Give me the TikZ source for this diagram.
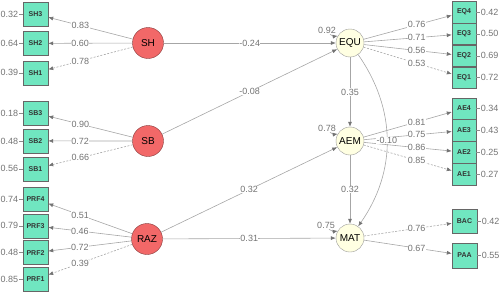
\documentclass[tikz,border=0pt]{standalone}
\usepackage{fontspec}
\setmainfont{Liberation Sans}
\usepackage{xcolor}
\usetikzlibrary{positioning,arrows.meta}

\definecolor{mint}{RGB}{112,230,192}
\definecolor{exored}{RGB}{242,104,104}
\definecolor{cream}{RGB}{255,255,226}

\begin{document}
\begin{tikzpicture}[
  x=1pt,y=-1pt,
  ind/.style={draw=black!60,fill=mint,minimum width=25pt,minimum height=24pt,
              inner sep=0pt,font=\fontsize{7}{8}\selectfont\bfseries,text=black!80},
  indr/.style={ind,minimum width=24pt,minimum height=21.5pt},
  exo/.style={circle,draw=exored!55!black,fill=exored,minimum size=31pt,
              inner sep=0pt,font=\fontsize{10}{12}\selectfont},
  endo/.style={circle,draw=black!40,fill=cream,minimum size=28pt,
               inner sep=0pt,font=\fontsize{10}{12}\selectfont},
  arr/.style={draw=black!35,line width=0.6pt,
              -{Latex[length=5pt,width=4pt,color=black!55]}},
  fix/.style={arr,dash pattern=on 2pt off 1.5pt},
  lab/.style={font=\fontsize{9}{10}\selectfont,text=black!55,fill=white,inner sep=0.4pt},
  res/.style={font=\fontsize{9}{10}\selectfont,text=black!55,inner sep=1pt},
  tick/.style={draw=black!45,line width=0.5pt},
]
\useasboundingbox (0,0) rectangle (500,292);

% latent variables
\node[exo] (SH) at (148,43) {SH};
\node[exo] (SB) at (148,141) {SB};
\node[exo] (RAZ) at (147,239) {RAZ};
\node[endo] (EQU) at (350,43) {EQU};
\node[endo] (AEM) at (350,141) {AEM};
\node[endo] (MAT) at (350,238) {MAT};

% indicators, left
\node[ind] (SH3) at (35.5,14) {SH3};
\node[ind,below=5pt of SH3] (SH2) {SH2};
\node[ind,below=5pt of SH2] (SH1) {SH1};
\node[ind] (SB3) at (35.5,113) {SB3};
\node[ind,below=3.5pt of SB3] (SB2) {SB2};
\node[ind,below=3.5pt of SB2] (SB1) {SB1};
\node[ind] (PRF4) at (35.5,199) {PRF4};
\node[ind,below=2.4pt of PRF4] (PRF3) {PRF3};
\node[ind,below=2.4pt of PRF3] (PRF2) {PRF2};
\node[ind,below=2.4pt of PRF2] (PRF1) {PRF1};

% indicators, right
\node[indr] (EQ4) at (464,12) {EQ4};
\node[indr,below=0pt of EQ4] (EQ3) {EQ3};
\node[indr,below=0pt of EQ3] (EQ2) {EQ2};
\node[indr,below=0pt of EQ2] (EQ1) {EQ1};
\node[indr] (AE4) at (464,108.5) {AE4};
\node[indr,below=0pt of AE4] (AE3) {AE3};
\node[indr,below=0pt of AE3] (AE2) {AE2};
\node[indr,below=0pt of AE2] (AE1) {AE1};
\node[ind] (BAC) at (464.5,221.5) {BAC};
\node[ind,minimum height=25pt,below=9pt of BAC] (PAA) {PAA};

% residuals of indicators
\foreach \n/\v in {SH3/0.32,SH2/0.64,SH1/0.39,SB3/0.18,SB2/0.48,SB1/0.56,
                   PRF4/0.74,PRF3/0.79,PRF2/0.48,PRF1/0.85}{
  \node[res,left=3.5pt of \n] (e\n) {\v};
  \draw[tick] (e\n) -- (\n);
}
\foreach \n/\v in {EQ4/0.42,EQ3/0.50,EQ2/0.69,EQ1/0.72,AE4/0.34,AE3/0.43,
                   AE2/0.25,AE1/0.27,BAC/0.42,PAA/0.55}{
  \node[res,right=3.5pt of \n] (e\n) {\v};
  \draw[tick] (\n) -- (e\n);
}

% residuals of latent variables
\node[res] (vEQU) at (327,30) {0.92};
\node[res] (vAEM) at (327,128) {0.78};
\node[res] (vMAT) at (326,225) {0.75};
\draw[arr] ([xshift=3pt]vEQU.south) to[bend right=20] (EQU.150);
\draw[arr] ([xshift=3pt]vAEM.south) to[bend right=20] (AEM.150);
\draw[arr] ([xshift=3pt]vMAT.south) to[bend right=20] (MAT.150);

% loadings
\draw[arr] (SH) -- node[lab,pos=0.62] {0.83} (SH3);
\draw[arr] (SH) -- node[lab,pos=0.62] {0.60} (SH2);
\draw[fix] (SH) -- node[lab,pos=0.62] {0.78} (SH1);
\draw[arr] (SB) -- node[lab,pos=0.62] {0.90} (SB3);
\draw[arr] (SB) -- node[lab,pos=0.62] {0.72} (SB2);
\draw[fix] (SB) -- node[lab,pos=0.62] {0.66} (SB1);
\draw[arr] (RAZ) -- node[lab,pos=0.62] {0.51} (PRF4);
\draw[arr] (RAZ) -- node[lab,pos=0.62] {0.46} (PRF3);
\draw[arr] (RAZ) -- node[lab,pos=0.62] {0.72} (PRF2);
\draw[fix] (RAZ) -- node[lab,pos=0.62] {0.39} (PRF1);
\draw[arr] (EQU) -- node[lab,pos=0.6] {0.76} (EQ4);
\draw[arr] (EQU) -- node[lab,pos=0.6] {0.71} (EQ3);
\draw[arr] (EQU) -- node[lab,pos=0.6] {0.56} (EQ2);
\draw[fix] (EQU) -- node[lab,pos=0.6] {0.53} (EQ1);
\draw[arr] (AEM) -- node[lab,pos=0.6] {0.81} (AE4);
\draw[arr] (AEM) -- node[lab,pos=0.6] {0.75} (AE3);
\draw[arr] (AEM) -- node[lab,pos=0.6] {0.86} (AE2);
\draw[fix] (AEM) -- node[lab,pos=0.6] {0.85} (AE1);
\draw[fix] (MAT) -- node[lab,pos=0.6] {0.76} (BAC);
\draw[arr] (MAT) -- node[lab,pos=0.6] {0.67} (PAA);

% structural paths
\draw[arr] (SH) -- node[lab] {-0.24} (EQU);
\draw[arr] (SB) -- node[lab] {-0.08} (EQU);
\draw[arr] (RAZ) -- node[lab] {0.32} (AEM);
\draw[arr] (RAZ) -- node[lab] {0.31} (MAT);
\draw[arr] (EQU) -- node[lab] {0.35} (AEM);
\draw[arr] (AEM) -- node[lab] {0.32} (MAT);
\draw[arr] (EQU) to[out=-55,in=55] node[lab] {-0.10} (MAT);
\end{tikzpicture}
\end{document}
